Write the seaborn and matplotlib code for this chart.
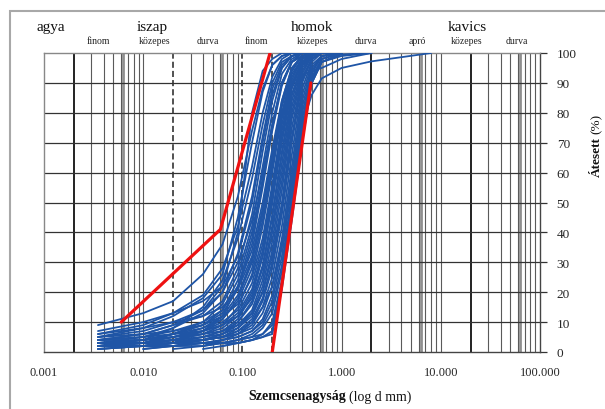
import numpy as np
import pandas as pd
import matplotlib
matplotlib.use("Agg")
import matplotlib.pyplot as plt
from matplotlib.patches import Rectangle
from matplotlib.ticker import FixedLocator, NullFormatter
import seaborn as sns

nan = np.nan

# ---------------- data ----------------
sieve_d = [0.0035, 0.01, 0.02, 0.04, 0.063, 0.09, 0.125, 0.16, 0.2,
           0.25, 0.315, 0.4, 0.5, 0.63, 1.0, 2.0, 8.0]

c01 = [9, 13, 17, 26, 36, 52, 74, 88, 96, 99, 100, 100, 100, 100, 100, nan, nan]
c02 = [5, 8, 12, 18, 26, 45, 70, 87, 96, 99, 100, 100, 100, 100, 100, nan, nan]
c03 = [4, 6, 9, 14, 22, 40, 80, 94, 98, 100, 100, 100, 100, 100, 100, nan, nan]
c04 = [6, 9, 13, 19, 28, 42, 62, 80, 92, 98, 100, 100, 100, 100, 100, nan, nan]
c05 = [nan, 4, 8, 15, 24, 38, 58, 76, 90, 97, 99, 100, 100, 100, 100, nan, nan]
c06 = [3, 5, 8, 13, 20, 33, 52, 72, 88, 96, 99, 100, 100, 100, 100, nan, nan]
c07 = [7, 10, 13, 17, 22, 32, 50, 70, 86, 95, 99, 100, 100, 100, 100, nan, nan]
c08 = [4, 6, 9, 12, 17, 28, 46, 67, 84, 95, 99, 100, 100, 100, 100, nan, nan]
c09 = [nan, 3, 6, 10, 16, 26, 42, 62, 80, 93, 98, 100, 100, 100, 100, nan, nan]
c10 = [5, 7, 10, 14, 20, 30, 44, 60, 76, 90, 97, 99, 100, 100, 100, nan, nan]
c11 = [3, 4, 6, 9, 14, 24, 40, 58, 76, 90, 97, 100, 100, 100, 100, nan, nan]
c12 = [2, 4, 6, 9, 13, 21, 36, 55, 74, 89, 97, 99, 100, 100, 100, nan, nan]
c13 = [nan, nan, 3, 7, 12, 22, 38, 57, 75, 90, 97, 100, 100, 100, 100, nan, nan]
c14 = [4, 5, 7, 10, 14, 22, 34, 50, 68, 84, 95, 99, 100, 100, 100, nan, nan]
c15 = [2, 3, 5, 8, 12, 19, 31, 48, 66, 83, 94, 99, 100, 100, 100, nan, nan]
c16 = [6, 8, 10, 12, 15, 21, 32, 47, 64, 82, 94, 99, 100, 100, 100, nan, nan]
c17 = [3, 4, 6, 8, 11, 17, 28, 44, 62, 80, 93, 98, 100, 100, 100, nan, nan]
c18 = [nan, 2, 4, 7, 11, 18, 30, 46, 65, 84, 95, 99, 100, 100, 100, nan, nan]
c19 = [2, 3, 4, 6, 9, 15, 26, 42, 60, 79, 92, 98, 100, 100, 100, nan, nan]
c20 = [5, 6, 7, 9, 12, 16, 25, 38, 56, 76, 91, 98, 100, 100, 100, nan, nan]
c21 = [3, 4, 5, 7, 10, 14, 23, 36, 54, 74, 90, 97, 100, 100, 100, nan, nan]
c22 = [nan, 3, 5, 7, 9, 13, 21, 34, 52, 72, 89, 97, 99.5, 100, 100, nan, nan]
c23 = [2, 3, 4, 5, 7, 11, 19, 32, 50, 70, 88, 97, 100, 100, 100, nan, nan]
c24 = [4, 5, 6, 7, 9, 12, 18, 29, 46, 67, 86, 96, 99, 100, 100, nan, nan]
c25 = [1, 2, 3, 5, 7, 10, 17, 28, 45, 66, 86, 96, 100, 100, 100, nan, nan]
c26 = [nan, nan, 2, 4, 6, 10, 16, 26, 42, 63, 84, 96, 99, 100, 100, nan, nan]
c27 = [3, 3, 4, 5, 6, 9, 14, 24, 40, 60, 82, 95, 99, 100, 100, nan, nan]
c28 = [2, 3, 3, 4, 6, 8, 13, 22, 37, 57, 80, 94, 99, 100, 100, nan, nan]
c29 = [nan, 2, 3, 4, 5, 8, 12, 20, 34, 54, 78, 93, 99, 100, 100, nan, nan]
c30 = [4, 4, 5, 6, 7, 9, 13, 20, 32, 50, 75, 92, 98, 100, 100, nan, nan]
c31 = [1, 2, 3, 4, 5, 7, 11, 18, 30, 48, 72, 91, 98, 100, 100, nan, nan]
c32 = [nan, nan, nan, 2, 4, 6, 10, 17, 28, 46, 70, 90, 98, 100, 100, nan, nan]
c33 = [2, 2, 3, 4, 5, 6, 9, 15, 25, 42, 66, 88, 97, 100, 100, nan, nan]
c34 = [3, 3, 4, 4, 5, 6, 8, 13, 22, 38, 62, 86, 96, 99, 100, nan, nan]
c35 = [nan, 1, 2, 3, 4, 5, 7, 11, 19, 35, 59, 84, 95, 99, 100, nan, nan]
c36 = [2, 2, 3, 3, 4, 5, 7, 10, 17, 32, 56, 82, 94, 99, 100, nan, nan]
c37 = [nan, nan, 1, 2, 3, 4, 6, 9, 15, 29, 53, 80, 93, 99, 100, nan, nan]
c38 = [1, 2, 2, 3, 3, 4, 5, 8, 13, 27, 50, 78, 92, 98, 100, nan, nan]
c39 = [nan, nan, nan, nan, 2, 3, 4, 6, 10, 24, 48, 76, 91, 98, 100, nan, nan]
c40 = [2, 2, 2, 3, 3, 4, 5, 6, 9, 23, 46, 74, 90, 97, 100, nan, nan]
c41 = [nan, 1, 2, 2, 3, 3, 4, 5, 7, 23, 47, 73, 90, 97, 99.5, 100, nan]
c42 = [nan, nan, nan, 1, 2, 3, 4, 5, 6, 21, 44, 70, 90, 97, 99, 100, nan]
c43 = [nan, 2, 3, 4, 5, 7, 10, 15, 22, 36, 56, 76, 86, 91.5, 95, 97.2, 100]
c44 = [2, 3, 4, 6, 8, 12, 20, 32, 50, 78, 90, 92.5, 94, 95, 98, 100, nan]

samples = [c01, c02, c03, c04, c05, c06, c07, c08, c09, c10, c11,
           c12, c13, c14, c15, c16, c17, c18, c19, c20, c21, c22,
           c23, c24, c25, c26, c27, c28, c29, c30, c31, c32, c33,
           c34, c35, c36, c37, c38, c39, c40, c41, c42, c43, c44]

red_left_d = [0.006, 0.06, 0.19]
red_left_p = [10, 41, 100]
red_right_d = [0.2, 0.49]
red_right_p = [0, 90]

x_tick_vals = [0.001, 0.01, 0.1, 1, 10, 100]
x_tick_labels = ["0.001", "0.010", "0.100", "1.000", "10.000", "100.000"]
y_ticks = [0, 10, 20, 30, 40, 50, 60, 70, 80, 90, 100]

group_labels = ["agya", "iszap", "homok", "kavics"]
group_x = [0.00116, 0.0124, 0.50, 18.6]
sub_labels = ["finom", "közepes", "durva", "finom", "közepes", "durva",
              "apró", "közepes", "durva"]
sub_x = [0.0035, 0.013, 0.0444, 0.137, 0.51, 1.77, 5.86, 18.4, 58]

# ---------------- long tables ----------------
rows = []
for i, s in enumerate(samples):
    for d, p in zip(sieve_d, s):
        if not np.isnan(p):
            rows.append({"d": d, "pct": p, "sample": i})
df = pd.DataFrame(rows)

red_rows = []
for d, p in zip(red_left_d, red_left_p):
    red_rows.append({"d": d, "pct": p, "line": "left"})
for d, p in zip(red_right_d, red_right_p):
    red_rows.append({"d": d, "pct": p, "line": "right"})
df_red = pd.DataFrame(red_rows)

# ---------------- style ----------------
sns.set_style("white")
plt.rcParams["font.family"] = ["Liberation Serif", "DejaVu Serif"]

W, H = 605, 410
fig = plt.figure(figsize=(W / 100, H / 100), dpi=100)
ax = fig.add_axes([44 / W, 1 - 353 / H, (540 - 44) / W, (353 - 54) / H])
ax.set_xscale("log")
ax.set_xlim(0.001, 100)
ax.set_ylim(0, 100)

# vertical grid lines
minor_pos = []
for k in range(-3, 2):
    for m in range(2, 10):
        minor_pos.append(m * 10.0 ** k)
for v in [0.01, 1, 10]:
    minor_pos.append(v)
special_black = [0.002, 2, 20]
special_gray = [0.0063, 0.063, 0.63, 6.3, 63]
special_dash = [0.02, 0.1, 0.2]
for v in minor_pos:
    if any(abs(v - s) / s < 1e-6 for s in special_black + special_dash):
        continue
    ax.axvline(v, color="#5a5a5a", lw=0.8, zorder=1)
for v in special_gray:
    ax.axvline(v, color="#8f8f8f", lw=2.0, zorder=1)
for v in special_black:
    ax.axvline(v, color="#111111", lw=1.3, zorder=1)
for v in special_dash:
    ax.axvline(v, color="#222222", lw=1.1, ls=(0, (4, 2)), zorder=1)
for v in y_ticks[1:-1]:
    ax.axhline(v, color="#333333", lw=0.9, zorder=1)

# curves
sns.lineplot(data=df, x="d", y="pct", units="sample", estimator=None,
             color="#1f55a6", lw=1.3, ax=ax, zorder=3, legend=False, sort=False)
sns.lineplot(data=df_red, x="d", y="pct", units="line", estimator=None,
             color="#ee1111", lw=2.3, ax=ax, zorder=4, legend=False, sort=False)

# axes styling
ax.yaxis.tick_right()
ax.set_yticks(y_ticks)
ax.set_yticklabels([str(v) for v in y_ticks])
ax.xaxis.set_major_locator(FixedLocator(x_tick_vals))
ax.set_xticklabels(x_tick_labels)
ax.xaxis.set_minor_locator(FixedLocator(minor_pos))
ax.xaxis.set_minor_formatter(NullFormatter())
ax.tick_params(axis="x", which="major", direction="out", length=5, width=0.9,
               color="#333333", labelsize=9, pad=5)
ax.tick_params(axis="x", which="minor", direction="out", length=3, width=0.6,
               color="#555555")
ax.tick_params(axis="y", which="major", direction="out", length=5, width=0.9,
               color="#333333", labelsize=9.5, pad=7, right=True, left=False)
for sp in ["top", "left"]:
    ax.spines[sp].set_color("#888888")
    ax.spines[sp].set_linewidth(1.0)
for sp in ["bottom", "right"]:
    ax.spines[sp].set_color("#444444")
    ax.spines[sp].set_linewidth(1.0)
ax.set_xlabel("")
ax.set_ylabel("")

# top category labels
tr = ax.get_xaxis_transform()
for lab, xv in zip(group_labels, group_x):
    ax.text(xv, 1.087, lab, transform=tr, ha="center", va="center",
            fontsize=11, color="#111111")
for lab, xv in zip(sub_labels, sub_x):
    ax.text(xv, 1.041, lab, transform=tr, ha="center", va="center",
            fontsize=7, color="#222222")

# x label (bold + normal)
fig.text(346 / W, 1 - 397 / H, "Szemcsenagyság", ha="right", va="center",
         fontsize=10, fontweight="bold", color="#111111")
fig.text(349 / W, 1 - 397 / H, "(log d mm)", ha="left", va="center",
         fontsize=10, color="#111111")
# y label (bold + normal), rotated
fig.text(597 / W, 1 - 177 / H, "Átesett", rotation=90, ha="center", va="bottom",
         fontsize=9.5, fontweight="bold", color="#111111")
fig.text(597 / W, 1 - 134 / H, "(%)", rotation=90, ha="center", va="bottom",
         fontsize=9.5, color="#111111")

# outer frame
fig.add_artist(Rectangle((10 / W, -0.1), 1.2, 1 - 12 / H + 0.1,
                         transform=fig.transFigure, fill=False,
                         ec="#a8a8a8", lw=1.5))

fig.savefig("out.png", dpi=100)
